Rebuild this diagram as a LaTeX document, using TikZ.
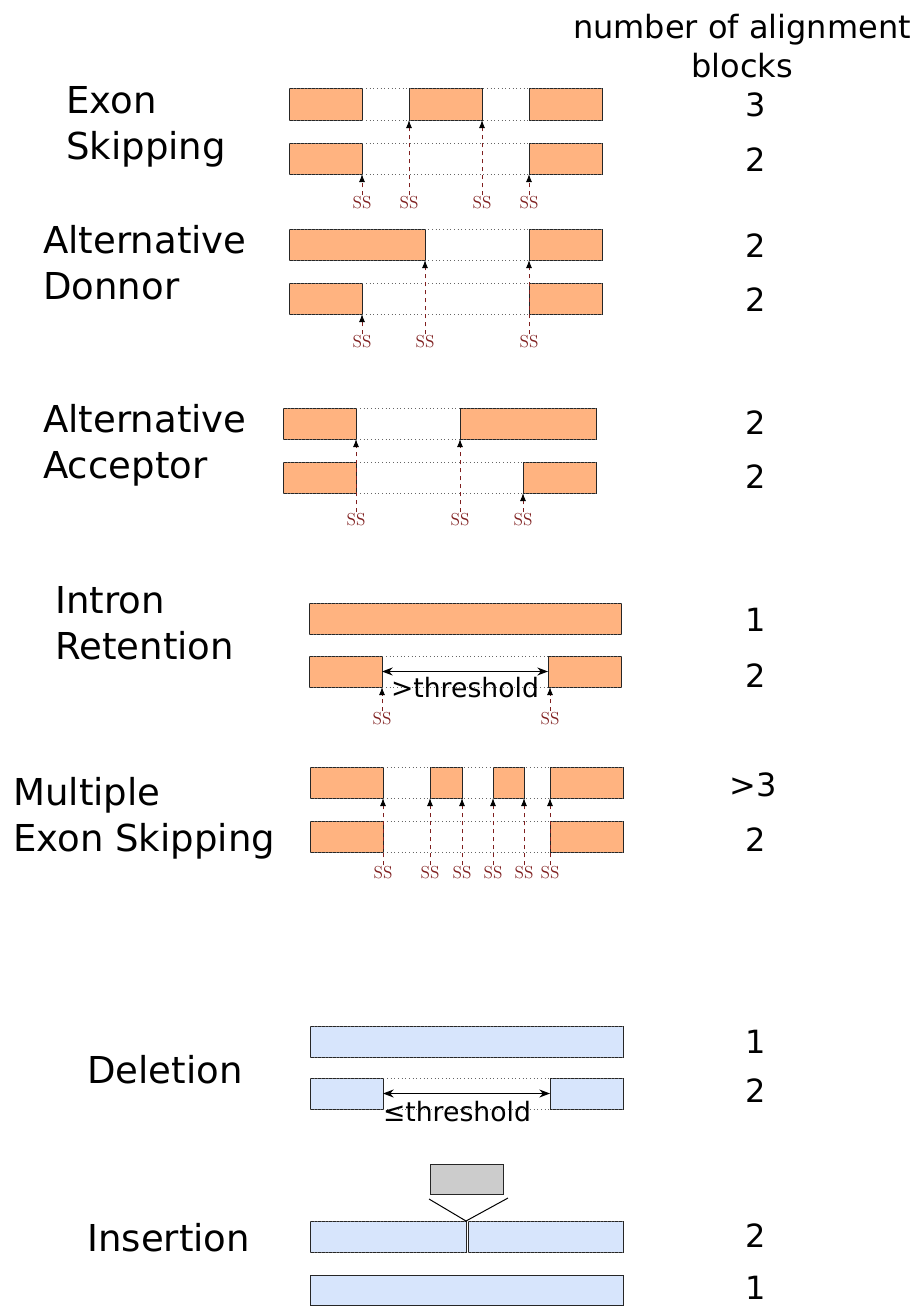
\documentclass[tikz,border=0pt]{standalone}
\usepackage{fontspec}
\usetikzlibrary{arrows.meta}
\newfontfamily\dejavu{DejaVu Sans}
\definecolor{exonfill}{HTML}{FFB380}
\definecolor{indelfill}{HTML}{D7E5FC}
\definecolor{insfill}{HTML}{CCCCCC}
\definecolor{ssred}{HTML}{7F1F1F}

\begin{document}
\begin{tikzpicture}[x=0.75pt,y=0.75pt,yscale=-1,xscale=1,
  blk/.style={draw=black!85, line width=0.75, inner sep=0pt, outer sep=0pt, anchor=north west, minimum height=23.25pt, minimum width=#1*0.75pt},
  exon/.style={blk=#1, fill=exonfill},
  indel/.style={blk=#1, fill=indelfill},
  guide/.style={draw=black!60, dotted, line width=0.75},
  ss/.style={text=ssred, font=\rmfamily\fontsize{13}{13}\selectfont, inner sep=0.75pt},
  sslink/.style={ssred, dashed, line width=0.75, -{Latex[color=black,length=6pt,width=4.5pt]}},
  event/.style={font=\dejavu\fontsize{27.8}{34.5}\selectfont, align=left, anchor=west, inner sep=0.75pt},
  count/.style={font=\dejavu\fontsize{24}{29}\selectfont, align=center, inner sep=0.75pt},
  limit/.style={font=\dejavu\fontsize{20}{23}\selectfont, inner sep=0.75pt},
  span/.style={line width=0.9, {Stealth[length=8pt,width=6pt]}-{Stealth[length=8pt,width=6pt]}},
]
\useasboundingbox (0,0) rectangle (916,1306);

% header
\node[count] (head) at (742,46) {number of alignment\\blocks};

% Exon Skipping
\node[event] (lbles) at (65,127) {Exon\\Skipping};
\node[exon=73] (es11) at (289,89) {};
\node[exon=73] (es12) at (409,89) {};
\node[exon=73] (es13) at (529,89) {};
\node[exon=73] (es21) at (289,143) {};
\node[exon=73] (es23) at (529,143) {};
\draw[guide] (es11.north west) -- (es13.north east);
\draw[guide] (es11.south west) -- (es13.south east);
\draw[guide] (es21.north west) -- (es23.north east);
\draw[guide] (es21.south west) -- (es23.south east);
\node[ss] (ses1) at (362,203) {SS};
\node[ss] (ses2) at (409,203) {SS};
\node[ss] (ses3) at (482,203) {SS};
\node[ss] (ses4) at (529,203) {SS};
\draw[sslink] (ses1.north) -- (es21.south east);
\draw[sslink] (ses2.north) -- (es12.south west);
\draw[sslink] (ses3.north) -- (es12.south east);
\draw[sslink] (ses4.north) -- (es23.south west);
\node[count] (nes1) at (756,105) {3};
\node[count] (nes2) at (756,160) {2};

% Alternative Donnor
\node[event] (lblad) at (42,263) {Alternative\\Donnor};
\node[exon=136] (ad11) at (289,229) {};
\node[exon=73] (ad12) at (529,229) {};
\node[exon=73] (ad21) at (289,283) {};
\node[exon=73] (ad22) at (529,283) {};
\draw[guide] (ad11.north west) -- (ad12.north east);
\draw[guide] (ad11.south west) -- (ad12.south east);
\draw[guide] (ad21.north west) -- (ad22.north east);
\draw[guide] (ad21.south west) -- (ad22.south east);
\node[ss] (sad1) at (362,342) {SS};
\node[ss] (sad2) at (425,342) {SS};
\node[ss] (sad3) at (529,342) {SS};
\draw[sslink] (sad1.north) -- (ad21.south east);
\draw[sslink] (sad2.north) -- (ad11.south east);
\draw[sslink] (sad3.north) -- (ad12.south west);
\node[count] (nad1) at (756,246) {2};
\node[count] (nad2) at (756,300) {2};

% Alternative Acceptor
\node[event] (lblaa) at (42,445) {Alternative\\Acceptor};
\node[exon=73] (aa11) at (283,408) {};
\node[exon=136] (aa12) at (460,408) {};
\node[exon=73] (aa21) at (283,462) {};
\node[exon=73] (aa22) at (523,462) {};
\draw[guide] (aa11.north west) -- (aa12.north east);
\draw[guide] (aa11.south west) -- (aa12.south east);
\draw[guide] (aa21.north west) -- (aa22.north east);
\draw[guide] (aa21.south west) -- (aa22.south east);
\node[ss] (saa1) at (356,520) {SS};
\node[ss] (saa2) at (460,520) {SS};
\node[ss] (saa3) at (523,520) {SS};
\draw[sslink] (saa1.north) -- (aa11.south east);
\draw[sslink] (saa2.north) -- (aa12.south west);
\draw[sslink] (saa3.north) -- (aa22.south west);
\node[count] (naa1) at (756,423) {2};
\node[count] (naa2) at (756,477) {2};

% Intron Retention
\node[event] (lblir) at (54,623) {Intron\\Retention};
\node[exon=312] (ir11) at (309,603) {};
\node[exon=73] (ir21) at (309,656) {};
\node[exon=73] (ir22) at (548,656) {};
\draw[guide] (ir11.north west) -- (ir11.north east);
\draw[guide] (ir11.south west) -- (ir11.south east);
\draw[guide] (ir21.north west) -- (ir22.north east);
\draw[guide] (ir21.south west) -- (ir22.south east);
\draw[span] (ir21.east) -- (ir22.west);
\node[limit] (irlim) at (465,688) {>threshold};
\node[ss] (sir1) at (382,719) {SS};
\node[ss] (sir2) at (550,719) {SS};
\draw[sslink] (sir1.north) -- (ir21.south east);
\draw[sslink] (sir2.north) -- (sir2.north |- ir22.south west);
\node[count] (nir1) at (756,620) {1};
\node[count] (nir2) at (756,676) {2};

% Multiple Exon Skipping
\node[event] (lblme) at (12,818) {Multiple\\Exon Skipping};
\node[exon=73] (me11) at (310,767) {};
\node[exon=32] (me12) at (430,767) {};
\node[exon=31] (me13) at (493,767) {};
\node[exon=73] (me14) at (550,767) {};
\node[exon=73] (me21) at (310,821) {};
\node[exon=73] (me24) at (550,821) {};
\draw[guide] (me11.north west) -- (me14.north east);
\draw[guide] (me11.south west) -- (me14.south east);
\draw[guide] (me21.north west) -- (me24.north east);
\draw[guide] (me21.south west) -- (me24.south east);
\node[ss] (sme1) at (383,873) {SS};
\node[ss] (sme2) at (430,873) {SS};
\node[ss] (sme3) at (462,873) {SS};
\node[ss] (sme4) at (493,873) {SS};
\node[ss] (sme5) at (524,873) {SS};
\node[ss] (sme6) at (550,873) {SS};
\draw[sslink] (sme1.north) -- (me11.south east);
\draw[sslink] (sme2.north) -- (me12.south west);
\draw[sslink] (sme3.north) -- (me12.south east);
\draw[sslink] (sme4.north) -- (me13.south west);
\draw[sslink] (sme5.north) -- (me13.south east);
\draw[sslink] (sme6.north) -- (me14.south west);
\node[count] (nme1) at (753,785) {>3};
\node[count] (nme2) at (756,840) {2};

% Deletion
\node[event] (lblde) at (86,1070) {Deletion};
\node[indel=313] (de11) at (310,1026) {};
\node[indel=73] (de21) at (310,1078) {};
\node[indel=73] (de22) at (550,1078) {};
\draw[guide] (de11.north west) -- (de11.north east);
\draw[guide] (de11.south west) -- (de11.south east);
\draw[guide] (de21.north west) -- (de22.north east);
\draw[guide] (de21.south west) -- (de22.south east);
\draw[span] (de21.east) -- (de22.west);
\node[limit] (delim) at (457,1112) {≤threshold};
\node[count] (nde1) at (756,1042) {1};
\node[count] (nde2) at (756,1091) {2};

% Insertion
\node[event] (lblin) at (86,1238) {Insertion};
\node[blk=73, fill=insfill, minimum height=22.5pt] (ins0) at (430,1164) {};
\node[indel=156] (in11) at (310,1221) {};
\node[indel=155] (in12) at (468,1221) {};
\node[indel=313, minimum height=22.5pt] (in21) at (310,1275) {};
\draw[guide] (in11.north west) -- (in12.north east);
\draw[guide] (in11.south west) -- (in12.south east);
\coordinate (insl) at (429,1199);
\coordinate (insr) at (508,1198);
\draw[line width=0.75] (insl) -- (in11.north east) -- (insr);
\node[count] (nin1) at (756,1236) {2};
\node[count] (nin2) at (756,1288) {1};

\end{tikzpicture}
\end{document}
